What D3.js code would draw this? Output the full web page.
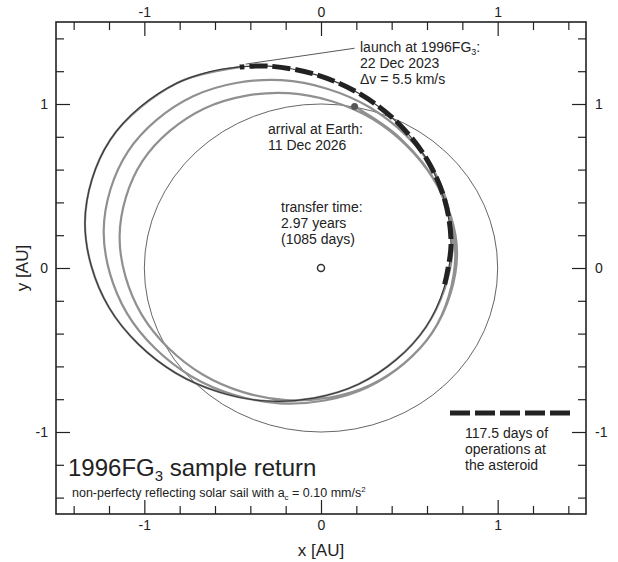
<!DOCTYPE html>
<html>
<meta charset="utf-8">
<style>
body{margin:0;background:#fff;}
svg text{font-family:"Liberation Sans",Arial,sans-serif;fill:#222;}
.axis text{font-size:14px;}
.axis line{stroke:#222;stroke-width:1.2px;}
.note{font-size:14px;}
</style>
<body>
<script src="https://d3js.org/d3.v7.min.js"></script>
<script>
// axis ticks [AU]
var majorTicks=[-1,0,1];
var minorTicks=[-1.4,-1.2,-0.8,-0.6,-0.4,-0.2,0.2,0.4,0.6,0.8,1.2,1.4];

// Earth orbit (circle) and Sun
var sun=[0,0];
var earthRadius=1.0;

// 1996FG3 orbit [x,y in AU]
var asteroidOrbit=[[-1.194,0.78],[-1.336,0.279],[-1.2,-0.241],[-0.823,-0.64],[-0.306,-0.811],
  [0.212,-0.709],[0.594,-0.36],[0.736,0.141],[0.6,0.661],[0.223,1.06],[-0.294,1.231],[-0.812,1.129]];

// 117.5 days at the asteroid (along its orbit, ends at launch)
var operations=[[0.70,-0.10],[0.736,0.141],[0.702,0.408],[0.6,0.661],[0.437,0.883],[0.223,1.06],
  [-0.027,1.179],[-0.294,1.231],[-0.46,1.225]];

// sail return trajectory, launch -> Earth
var trajectory=[[-0.46,1.225],[-0.812,1.129],[-1.194,0.78],[-1.336,0.279],[-1.2,-0.241],[-0.823,-0.64],
  [-0.306,-0.811],[0.212,-0.709],[0.594,-0.36],[0.745,0.12],
  [0.639,0.595],[0.275,0.98],[-0.224,1.145],[-0.724,1.047],[-1.093,0.71],[-1.23,0.227],[-1.099,-0.275],
  [-0.735,-0.66],[-0.236,-0.825],[0.264,-0.727],[0.633,-0.39],[0.77,0.093],
  [0.635,0.544],[0.29,0.909],[-0.184,1.066],[-0.66,0.973],[-1.01,0.653],[-1.14,0.193],[-1.015,-0.284],
  [-0.67,-0.649],[-0.196,-0.806],[0.28,-0.713],[0.63,-0.393],[0.76,0.067],[0.66,0.5],[0.45,0.79],[0.19,0.985]];

var launchPt=[-0.46,1.225];
var arrivalPt=[0.19,0.985];
var leaderEnd=[0.19,1.34];

var svg=d3.select("body").append("svg").attr("width",618).attr("height",562);

var x=d3.scaleLinear().domain([-1.5,1.5]).range([56,586]);
var y=d3.scaleLinear().domain([-1.5,1.5]).range([514,22]);

var line=d3.line().x(d=>x(d[0])).y(d=>y(d[1]));

// axes: inward ticks on all four sides
function styleAxis(g){g.select(".domain").remove();}
var fmt=d=>String(d);
svg.append("g").attr("class","axis").attr("transform","translate(0,514)")
  .call(d3.axisBottom(x).tickValues(majorTicks).tickSizeInner(-14).tickSizeOuter(0).tickPadding(6).tickFormat(fmt)).call(styleAxis);
svg.append("g").attr("class","axis").attr("transform","translate(0,514)")
  .call(d3.axisBottom(x).tickValues(minorTicks).tickSizeInner(-8).tickSizeOuter(0).tickFormat("")).call(styleAxis);
svg.append("g").attr("class","axis").attr("transform","translate(0,22)")
  .call(d3.axisTop(x).tickValues(majorTicks).tickSizeInner(-14).tickSizeOuter(0).tickPadding(5).tickFormat(fmt)).call(styleAxis);
svg.append("g").attr("class","axis").attr("transform","translate(0,22)")
  .call(d3.axisTop(x).tickValues(minorTicks).tickSizeInner(-8).tickSizeOuter(0).tickFormat("")).call(styleAxis);
svg.append("g").attr("class","axis").attr("transform","translate(56,0)")
  .call(d3.axisLeft(y).tickValues(majorTicks).tickSizeInner(-14).tickSizeOuter(0).tickPadding(8).tickFormat(fmt)).call(styleAxis);
svg.append("g").attr("class","axis").attr("transform","translate(56,0)")
  .call(d3.axisLeft(y).tickValues(minorTicks).tickSizeInner(-8).tickSizeOuter(0).tickFormat("")).call(styleAxis);
svg.append("g").attr("class","axis").attr("transform","translate(586,0)")
  .call(d3.axisRight(y).tickValues(majorTicks).tickSizeInner(-14).tickSizeOuter(0).tickPadding(9).tickFormat(fmt)).call(styleAxis);
svg.append("g").attr("class","axis").attr("transform","translate(586,0)")
  .call(d3.axisRight(y).tickValues(minorTicks).tickSizeInner(-8).tickSizeOuter(0).tickFormat("")).call(styleAxis);

svg.selectAll(".axis text").attr("font-family",null);

// frame
svg.append("rect").attr("x",x(-1.5)).attr("y",y(1.5))
  .attr("width",x(1.5)-x(-1.5)).attr("height",y(-1.5)-y(1.5))
  .attr("fill","none").attr("stroke","#222").attr("stroke-width",1.6);

svg.append("text").attr("x",321).attr("y",556).attr("text-anchor","middle").style("font-size","17px").text("x [AU]");
svg.append("text").attr("transform","translate(28,268) rotate(-90)").attr("text-anchor","middle").style("font-size","17px").text("y [AU]");

// Earth orbit
svg.append("ellipse").attr("cx",x(sun[0])).attr("cy",y(sun[1]))
  .attr("rx",x(earthRadius)-x(0)).attr("ry",y(0)-y(earthRadius))
  .attr("fill","none").attr("stroke","#555").attr("stroke-width",0.9);

// trajectory
svg.append("path").datum(trajectory).attr("d",line.curve(d3.curveCatmullRom.alpha(0.5)))
  .attr("fill","none").attr("stroke","#909090").attr("stroke-width",2.2);

// asteroid orbit
svg.append("path").datum(asteroidOrbit).attr("d",line.curve(d3.curveCatmullRomClosed.alpha(0.5)))
  .attr("fill","none").attr("stroke","#3a3a3a").attr("stroke-width",1.2);

// operations at asteroid
svg.append("path").datum(operations).attr("d",line.curve(d3.curveCatmullRom.alpha(0.5)))
  .attr("fill","none").attr("stroke","#222").attr("stroke-width",5).attr("stroke-dasharray","18,5");

// sun and arrival
svg.append("circle").attr("cx",x(sun[0])).attr("cy",y(sun[1])).attr("r",3.5)
  .attr("fill","#fff").attr("stroke","#333").attr("stroke-width",1.5);
svg.append("circle").attr("cx",x(arrivalPt[0])).attr("cy",y(arrivalPt[1])).attr("r",3.5).attr("fill","#555");

// leader line
svg.append("line").attr("x1",x(leaderEnd[0])).attr("y1",y(leaderEnd[1]))
  .attr("x2",x(launchPt[0])+6).attr("y2",y(launchPt[1])-3).attr("stroke","#444").attr("stroke-width",0.9);

// notes
function lines(x0,y0,arr){
  var t=svg.append("text").attr("class","note").attr("x",x0).attr("y",y0);
  arr.forEach(function(s,i){t.append("tspan").attr("x",x0).attr("dy",i?16:0).text(s);});
  return t;
}
var l1=svg.append("text").attr("class","note").attr("x",360).attr("y",52);
l1.append("tspan").text("launch at 1996FG");
l1.append("tspan").attr("dy",3).style("font-size","9px").text("3");
l1.append("tspan").attr("dy",-3).text(":");
lines(360,68,["22 Dec 2023","\u0394v = 5.5 km/s"]);
lines(268,134,["arrival at Earth:","11 Dec 2026"]);
lines(281,212,["transfer time:","2.97 years","(1085 days)"]);
lines(465,438,["117.5 days of","operations at","the asteroid"]);

// legend dash
svg.append("line").attr("x1",450).attr("x2",575).attr("y1",413).attr("y2",413)
  .attr("stroke","#222").attr("stroke-width",5).attr("stroke-dasharray","20,5");

// title
var tt=svg.append("text").attr("x",68).attr("y",476).style("font-size","24px");
tt.append("tspan").text("1996FG");
tt.append("tspan").attr("dy",5).style("font-size","15px").text("3");
tt.append("tspan").attr("dy",-5).text(" sample return");
var st=svg.append("text").attr("x",72).attr("y",497).style("font-size","12.5px");
st.append("tspan").text("non-perfecty reflecting solar sail with a");
st.append("tspan").attr("dy",3).style("font-size","8px").text("c");
st.append("tspan").attr("dy",-3).text(" = 0.10 mm/s");
st.append("tspan").attr("dy",-5).style("font-size","8px").text("2");
</script>
</body>
</html>
